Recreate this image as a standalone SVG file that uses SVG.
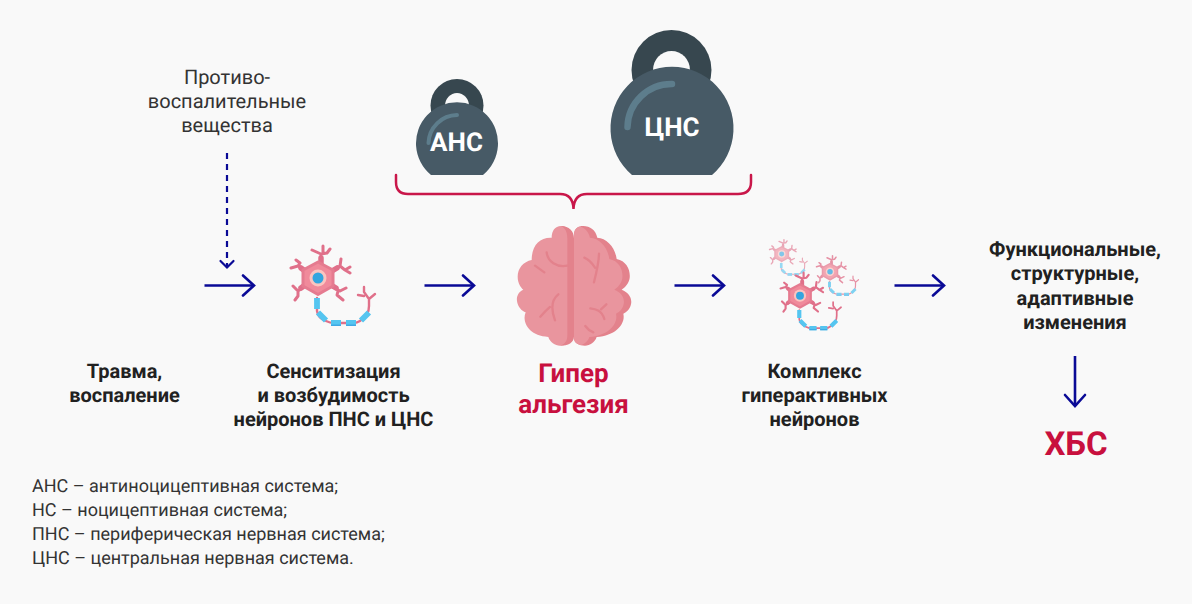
<svg xmlns="http://www.w3.org/2000/svg" xmlns:xlink="http://www.w3.org/1999/xlink" width="1192" height="604" viewBox="0 0 1192 604">
<style>
text{font-family:Roboto,"Liberation Sans",sans-serif;fill:#212121;text-anchor:middle;text-rendering:geometricPrecision}
.b{font-weight:700;font-size:20px}
.n{font-size:20px;fill:#333}
.l{font-size:18px;text-anchor:start;fill:#333}
.r{font-weight:700;fill:#c8103e}
.w{font-weight:700;font-size:26px;fill:#fff}
.a{fill:none;stroke:#0a0a96;stroke-width:2.6;marker-end:url(#ah)}
.hd{fill:#37474f}.ball{fill:#475a66}.hl{fill:none;stroke:#5d7d8c;stroke-linecap:round}
.den{fill:none;stroke:#e0708a;stroke-width:3;stroke-linecap:round;stroke-linejoin:round}
.root{fill:none;stroke:#e0708a;stroke-width:5.500;stroke-linecap:round}
.ax{fill:none;stroke:#e0708a;stroke-width:2.400;stroke-linecap:round;stroke-linejoin:round}
.my{fill:none;stroke:#55c5f0;stroke-width:5.800;stroke-linecap:butt}
.my2{fill:none;stroke:#3fa9e4;stroke-width:1.600}
.lt{fill:#e9959e}.dk{fill:#e3828c}.fold{fill:none;stroke:#e3828c;stroke-width:7;stroke-linecap:round;stroke-linejoin:round}
</style>
<defs>
<marker id="ah" viewBox="-14 -12 16 24" markerUnits="userSpaceOnUse" markerWidth="16" markerHeight="24" refX="0" refY="0" orient="auto">
<path d="M-11 -10L0 0L-11 10" fill="none" stroke="#0a0a96" stroke-width="2.600" stroke-linecap="round"/>
</marker>
<marker id="ahs" viewBox="-10 -9 12 18" markerUnits="userSpaceOnUse" markerWidth="12" markerHeight="18" refX="0" refY="0" orient="auto">
<path d="M-6.500 -6.500L0 0L-6.500 6.500" fill="none" stroke="#0a0a96" stroke-width="2.200" stroke-linecap="round"/>
</marker>
<clipPath id="rh"><path id="rhp" d="M207 370V60C207 40 220 33 235 33C255 33 272 45 277 68C305 70 330 95 335 132C365 138 377 165 374 190C372 205 360 218 350 224C372 232 382 250 378 268C375 282 365 292 355 296C362 325 335 362 275 366C270 382 255 392 240 392C222 392 207 385 207 370Z"/></clipPath>
<g id="neuron">
<path class="ax" d="M-1 20V33Q0 40 8 43Q12 45 16 45H36Q42 45 49 36Q51 33 51 28V21M51 21L46 14M46 18L40 17M51 21L57 16M46 14L46 9"/>
<path class="den" d="M3 -15V-24M3 -24L-6 -28M3 -24L9 -25L12 -29M5 -25V-32M15 -7L22 -12L23 -19M22 -12L27 -8L32 -5M27 -8L32 -11M13 8L22 13L28 10M20 13L19 17L25 22M-13 8L-20 13L-25 8M-20 13L-20 18L-23 22M-13 -8L-20 -12L-27 -10M-20 -12L-18 -15L-22 -18"/>
<path class="root" d="M3 -14V-20M14 -7L19 -10M13 7L18 10M-13 7L-17 10M-13 -7L-17 -10"/>
<path d="M0 -16L15 -8L15 8L0 16.500L-15 8L-15 -8Z" fill="#f08a9b" stroke="#e57b90" stroke-width="3" stroke-linejoin="round"/>
<circle cx="0" cy="0" r="8.500" fill="#fbc4c0"/>
<circle cx="0" cy="0" r="5.500" fill="#34a5df"/>
<path class="my" d="M-1 20V31M0 34.500L8 42.500M13 45H23M28 45H38M43 42.500L51 34.500"/>
<path class="my2" d="M13 47.200H23M28 47.200H38"/>
</g>
</defs>
<rect width="1192" height="604" fill="#f9f9f9"/>
<g id="connectors">
<path class="a" d="M204.500 285.500H254"/>
<path class="a" d="M424.500 285.500H474"/>
<path class="a" d="M674.500 285.500H724"/>
<path class="a" d="M894.500 285.500H944"/>
<path class="a" d="M1075 356V406"/>
<path style="fill:none;stroke:#0a0a96;stroke-width:2.200;stroke-dasharray:6 5;marker-end:url(#ahs)" d="M227 153V267.500"/>
<path d="M396 175V182Q396 194 408 194H560Q573 194 573.500 209Q574 194 587 194H738Q751 194 751 182V175" fill="none" stroke="#c9174a" stroke-width="2.500" stroke-linecap="round"/>
</g>
<g id="weight-ans">
<circle class="hd" cx="457" cy="105.500" r="26.500"/>
<path d="M445 106A12 13 0 0 1 469 106Z" fill="#f9f9f9"/>
<path class="ball" d="M431 175A41 41 0 1 1 483 175Z"/>
<path class="hl" stroke-width="4" d="M457 115A29 29 0 0 0 428.500 143"/>
<text class="w" x="456.500" y="151">АНС</text>
</g>
<g id="weight-cns">
<circle class="hd" cx="671.500" cy="70" r="40"/>
<path d="M653 70A18.500 19 0 0 1 690 70Z" fill="#f9f9f9"/>
<path class="ball" d="M632 175A61.500 61.500 0 1 1 712 175Z"/>
<path class="hl" stroke-width="6.500" d="M672 84A44 44 0 0 0 627.500 127"/>
<text class="w" x="672" y="136">ЦНС</text>
</g>
<g id="neuron1"><use xlink:href="#neuron" href="#neuron" transform="translate(318 278)"/></g>
<g id="brain" transform="translate(505 215) scale(.3333)">
<path class="lt" d="M195 370V60C195 40 182 33 168 33C150 33 140 48 140 68C105 66 80 90 80 135C55 140 38 160 38 185C38 205 48 218 55 224C40 230 34 245 36 258C38 275 50 288 62 292C50 320 70 362 130 366C135 382 150 392 165 392C182 392 195 385 195 370Z"/>
<use href="#rhp" xlink:href="#rhp" class="dk"/>
<g clip-path="url(#rh)"><use href="#rhp" xlink:href="#rhp" class="lt" transform="translate(-22 0)"/></g>
<path class="dk" d="M168 33C192 33 207 48 207 70V365C207 382 190 392 165 392C180 388 187 378 187 360V70C187 50 180 38 168 33Z"/>
<path class="fold" d="M125 112C128 140 155 158 187 152M90 152L118 172M160 238C145 250 135 275 150 316M135 276C125 285 115 295 106 305M238 128C255 135 265 150 270 158M282 116C282 140 275 170 267 202M256 280C270 282 290 285 298 312M288 283L304 268M241 333C247 342 255 348 265 352"/>
</g>
<g id="neuron-complex">
<use href="#neuron" xlink:href="#neuron" transform="translate(781.700 254) scale(.45)" opacity=".6"/>
<use href="#neuron" xlink:href="#neuron" transform="translate(830 271.700) scale(.5)" opacity=".75"/>
<use href="#neuron" xlink:href="#neuron" transform="translate(800 295.700) scale(.72)"/>
</g>
<g id="t-inhibitors">
<text class="n" x="227" y="84">Противо-</text>
<text class="n" x="227" y="108">воспалительные</text>
<text class="n" x="227" y="132">вещества</text>
</g>
<g id="t-trauma"><text class="b" x="124.500" y="378">Травма,</text><text class="b" x="124.500" y="402">воспаление</text></g>
<g id="t-sens"><text class="b" x="333.500" y="378">Сенситизация</text><text class="b" x="333.500" y="402">и возбудимость</text><text class="b" x="333.500" y="426">нейронов ПНС и ЦНС</text></g>
<g id="t-hyper"><text class="r" font-size="26" x="573.500" y="382">Гипер</text><text class="r" font-size="26" x="573.500" y="413">альгезия</text></g>
<g id="t-complex"><text class="b" x="814.500" y="378">Комплекс</text><text class="b" x="814.500" y="402">гиперактивных</text><text class="b" x="814.500" y="426">нейронов</text></g>
<g id="t-func"><text class="b" x="1075" y="256">Функциональные,</text><text class="b" x="1075" y="280">структурные,</text><text class="b" x="1075" y="305">адаптивные</text><text class="b" x="1075" y="329">изменения</text></g>
<g id="t-xbs"><text class="r" font-size="33" x="1076" y="455">ХБС</text></g>
<g id="legend">
<text class="l" x="32" y="492">АНС – антиноцицептивная система;</text>
<text class="l" x="32" y="516">НС – ноцицептивная система;</text>
<text class="l" x="32" y="540">ПНС – периферическая нервная система;</text>
<text class="l" x="32" y="564">ЦНС – центральная нервная система.</text>
</g>
</svg>
